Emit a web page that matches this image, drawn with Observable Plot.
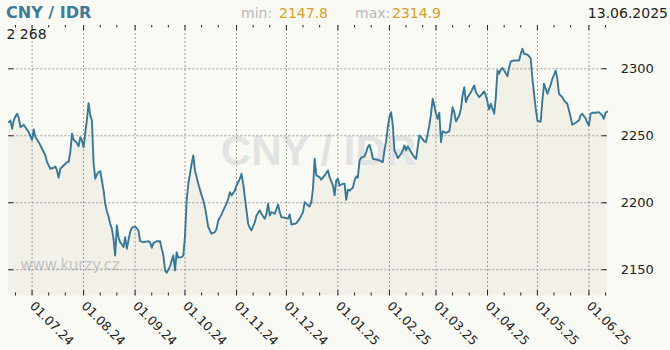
<!DOCTYPE html>
<html><head><meta charset="utf-8">
<script src="https://cdn.jsdelivr.net/npm/d3@7"></script>
<script src="https://cdn.jsdelivr.net/npm/@observablehq/plot@0.6"></script>
<style>
html,body{margin:0;padding:0;background:#fafaf5;}
#wrap{position:relative;width:670px;height:350px;overflow:hidden;font-family:"DejaVu Sans",sans-serif;}
#chart{position:absolute;left:0;top:0;}
.t{position:absolute;white-space:nowrap;line-height:1;}
</style></head><body>
<div id="wrap">
  <div id="chart"></div>
  <div class="t" id="title" style="left:6px;top:4.5px;font-size:16px;font-weight:bold;color:#3b7a99">CNY / IDR</div>
  <div class="t" style="left:241px;top:5.7px;font-size:14px;color:#b8b8b8">min:</div>
  <div class="t" id="minv" style="left:279px;top:5.7px;font-size:14px;color:#d6a11c"></div>
  <div class="t" style="left:355px;top:5.7px;font-size:14px;color:#b8b8b8">max:</div>
  <div class="t" id="maxv" style="left:392px;top:5.7px;font-size:14px;color:#d6a11c"></div>
  <div class="t" id="datev" style="right:2px;top:5.7px;font-size:14px;color:#222"></div>
  <div class="t" id="lastv" style="left:6.5px;top:26.7px;font-size:14px;color:#222"></div>
</div>
<script>
const pair = "CNY / IDR";
const asOf = "13.06.2025";
const site = "www.kurzy.cz";

const dates = [
"2024-06-17","2024-06-18","2024-06-19","2024-06-20","2024-06-21","2024-06-22","2024-06-23","2024-06-24","2024-06-26","2024-06-27","2024-06-29",
"2024-07-01","2024-07-02","2024-07-03","2024-07-05","2024-07-07","2024-07-09","2024-07-10","2024-07-12","2024-07-14","2024-07-15","2024-07-16","2024-07-17","2024-07-18","2024-07-20","2024-07-22","2024-07-23","2024-07-24","2024-07-25","2024-07-26","2024-07-28","2024-07-29","2024-07-30","2024-07-31",
"2024-08-01","2024-08-02","2024-08-03","2024-08-04","2024-08-05","2024-08-06","2024-08-07","2024-08-08","2024-08-09","2024-08-10","2024-08-11","2024-08-12","2024-08-13","2024-08-14","2024-08-15","2024-08-16","2024-08-17","2024-08-18","2024-08-19","2024-08-20","2024-08-21","2024-08-22","2024-08-23","2024-08-24","2024-08-25","2024-08-26","2024-08-27","2024-08-28","2024-08-29","2024-08-30",
"2024-09-01","2024-09-03","2024-09-04","2024-09-06","2024-09-09","2024-09-10","2024-09-11","2024-09-12","2024-09-14","2024-09-16","2024-09-17","2024-09-18","2024-09-19","2024-09-20","2024-09-22","2024-09-23","2024-09-24","2024-09-25","2024-09-26","2024-09-27","2024-09-29","2024-09-30",
"2024-10-01","2024-10-02","2024-10-03","2024-10-04","2024-10-05","2024-10-06","2024-10-07","2024-10-09","2024-10-11","2024-10-12","2024-10-13","2024-10-14","2024-10-15","2024-10-17","2024-10-19","2024-10-20","2024-10-21","2024-10-23","2024-10-24","2024-10-26","2024-10-27","2024-10-28","2024-10-29","2024-10-31",
"2024-11-01","2024-11-03","2024-11-04","2024-11-05","2024-11-06","2024-11-07","2024-11-08","2024-11-09","2024-11-10","2024-11-12","2024-11-13","2024-11-15","2024-11-16","2024-11-18","2024-11-19","2024-11-20","2024-11-21","2024-11-22","2024-11-24","2024-11-26","2024-11-27","2024-11-28","2024-11-30",
"2024-12-02","2024-12-03","2024-12-04","2024-12-06","2024-12-07","2024-12-09","2024-12-11","2024-12-12","2024-12-13","2024-12-15","2024-12-16","2024-12-17","2024-12-18","2024-12-19","2024-12-21","2024-12-22","2024-12-24","2024-12-26","2024-12-27","2024-12-29","2024-12-30","2024-12-31",
"2025-01-01","2025-01-02","2025-01-04","2025-01-05","2025-01-06","2025-01-07","2025-01-08","2025-01-10","2025-01-11","2025-01-12","2025-01-13","2025-01-14","2025-01-15","2025-01-17","2025-01-18","2025-01-19","2025-01-20","2025-01-21","2025-01-22","2025-01-24","2025-01-26","2025-01-28","2025-01-29","2025-01-30","2025-01-31",
"2025-02-01","2025-02-02","2025-02-03","2025-02-04","2025-02-05","2025-02-06","2025-02-08","2025-02-09","2025-02-10","2025-02-11","2025-02-12","2025-02-14","2025-02-16","2025-02-17","2025-02-18","2025-02-19","2025-02-20","2025-02-22","2025-02-23","2025-02-24","2025-02-25","2025-02-26","2025-02-27","2025-02-28",
"2025-03-01","2025-03-02","2025-03-03","2025-03-04","2025-03-05","2025-03-07","2025-03-09","2025-03-10","2025-03-11","2025-03-12","2025-03-13","2025-03-15","2025-03-16","2025-03-17","2025-03-18","2025-03-19","2025-03-20","2025-03-22","2025-03-23","2025-03-24","2025-03-25","2025-03-27","2025-03-28","2025-03-30","2025-03-31",
"2025-04-01","2025-04-02","2025-04-03","2025-04-04","2025-04-05","2025-04-06","2025-04-07","2025-04-08","2025-04-09","2025-04-10","2025-04-11","2025-04-13","2025-04-14","2025-04-15","2025-04-17","2025-04-19","2025-04-20","2025-04-21","2025-04-22","2025-04-23","2025-04-25","2025-04-26","2025-04-27","2025-04-28","2025-04-29","2025-04-30",
"2025-05-01","2025-05-02","2025-05-03","2025-05-04","2025-05-05","2025-05-06","2025-05-07","2025-05-09","2025-05-10","2025-05-11","2025-05-12","2025-05-13","2025-05-14","2025-05-16","2025-05-17","2025-05-19","2025-05-20","2025-05-21","2025-05-22","2025-05-23","2025-05-24","2025-05-26","2025-05-27","2025-05-28","2025-05-30","2025-05-31",
"2025-06-01","2025-06-02","2025-06-03","2025-06-05","2025-06-07","2025-06-09","2025-06-10","2025-06-11","2025-06-12"
];
const rates = [
2260.2,2261.4,2255.2,2261.4,2264.4,2266.4,2263.4,2256.4,2258.2,2256.4,2252.7,
2247.0,2254.7,2249.0,2245.2,2240.3,2235.3,2230.3,2225.4,2226.1,2227.1,2224.1,2218.7,2225.4,2227.8,2230.3,2230.3,2237.8,2251.5,2247.0,2244.5,2242.2,2249.0,2246.5,
2241.5,2252.0,2262.0,2274.3,2265.2,2261.4,2230.0,2217.9,2221.1,2222.8,2223.6,2216.6,2209.2,2199.3,2193.7,2189.8,2184.3,2180.6,2173.1,2160.7,2183.1,2174.3,2170.6,2168.9,2166.9,2174.3,2165.7,2171.9,2178.1,2181.3,
2182.3,2179.3,2171.3,2170.6,2171.3,2170.6,2166.4,2169.9,2171.3,2171.3,2165.7,2160.7,2149.5,2147.8,2152.5,2156.9,2160.7,2149.5,2163.1,2159.0,2159.4,2160.7,
2175.0,2201.7,2214.2,2221.6,2229.1,2235.3,2224.1,2214.2,2205.5,2201.7,2196.7,2189.3,2181.8,2176.9,2178.1,2180.6,2186.8,2191.3,2194.3,2199.3,2203.0,2207.9,2205.5,2209.2,
2212.9,2217.9,2221.6,2214.2,2204.2,2194.3,2184.3,2181.3,2179.3,2185.5,2190.5,2194.3,2191.8,2188.1,2191.8,2199.3,2190.5,2193.0,2191.8,2198.7,2193.0,2189.3,2188.8,
2188.1,2191.3,2183.8,2184.3,2184.8,2188.1,2193.0,2200.5,2199.3,2197.2,2200.5,2210.5,2232.8,2220.4,2219.1,2217.2,2220.4,2224.1,2219.1,2212.9,2205.5,2216.6,
2217.9,2212.9,2214.2,2214.2,2202.2,2209.7,2209.2,2211.2,2216.6,2219.6,2218.7,2231.6,2233.6,2234.6,2237.8,2241.5,2243.3,2239.0,2232.8,2232.3,2231.6,2230.3,2239.0,2245.8,2256.4,
2263.9,2267.6,2258.0,2239.0,2236.6,2233.3,2236.6,2239.0,2242.8,2239.0,2242.2,2237.8,2234.0,2232.8,2241.5,2250.2,2249.0,2245.8,2245.2,2251.5,2257.7,2266.4,2277.6,2272.6,
2266.4,2262.7,2267.2,2245.2,2253.2,2252.2,2253.2,2261.4,2271.3,2267.6,2260.7,2265.2,2270.2,2280.1,2286.3,2275.1,2278.8,2282.5,2285.1,2287.5,2282.5,2278.8,2280.1,2283.1,2280.1,
2275.1,2269.6,2273.9,2270.2,2266.4,2278.8,2298.7,2296.3,2299.5,2300.5,2298.7,2294.5,2301.2,2305.5,2306.2,2306.2,2306.2,2311.2,2314.9,2311.2,2310.5,2309.4,2307.5,2292.5,2281.3,2270.2,
2261.4,2260.7,2260.7,2276.3,2288.8,2285.1,2281.3,2288.1,2292.5,2295.5,2298.7,2292.5,2281.3,2278.8,2276.3,2273.9,2268.9,2263.9,2258.2,2259.0,2259.7,2261.4,2265.2,2266.4,2263.1,2259.7,
2257.7,2266.4,2267.2,2267.2,2267.6,2265.2,2262.7,2267.2,2268.0
];

const yTicks = [2150, 2200, 2250, 2300];
const monthTicks = ["2024-07-01","2024-08-01","2024-09-01","2024-10-01","2024-11-01","2024-12-01","2025-01-01","2025-02-01","2025-03-01","2025-04-01","2025-05-01","2025-06-01"];
const monthLabels = ["01.07.24","01.08.24","01.09.24","01.10.24","01.11.24","01.12.24","01.01.25","01.02.25","01.03.25","01.04.25","01.05.25","01.06.25"];
const minorTicks = ["2024-06-21","2024-07-11","2024-07-21","2024-08-11","2024-08-21","2024-09-11","2024-09-21","2024-10-11","2024-10-21","2024-11-11","2024-11-21","2024-12-11","2024-12-21","2025-01-11","2025-01-21","2025-02-11","2025-02-21","2025-03-11","2025-03-21","2025-04-11","2025-04-21","2025-05-11","2025-05-21","2025-06-11"];

const toDate = s => new Date(s + "T00:00:00Z");
const data = dates.map((d, i) => ({date: toDate(d), rate: rates[i]}));
const months = monthTicks.map((d, i) => ({date: toDate(d), label: monthLabels[i]}));
const minors = minorTicks.map(toDate);

const W = 670, H = 350, mT = 25, mB = 54.5, mL = 8.3, mR = 63.3;
const plotW = W - mL - mR, plotH = H - mT - mB;
const yDomain = [2130.4, 2332.3];
const ink = "#222";
const gridStyle = {stroke: "#9a9a9a", strokeOpacity: 1, strokeDasharray: "2,2"};

const chart = Plot.plot({
  width: W, height: H,
  marginTop: mT, marginBottom: mB, marginLeft: mL, marginRight: mR,
  style: {background: "transparent", fontFamily: "DejaVu Sans", color: ink, overflow: "visible"},
  x: {type: "utc", domain: [data[0].date, data[data.length - 1].date], axis: null},
  y: {domain: yDomain, axis: null},
  marks: [
    Plot.areaY(data, {x: "date", y1: yDomain[0], y2: "rate", fill: "#f1f1e8"}),
    Plot.text([pair], {frameAnchor: "top-left", dx: 212, dy: 110, lineAnchor: "top", textAnchor: "start",
      fontSize: 42, fontWeight: "bold", fontFamily: "Liberation Sans", fill: "#e3e3e3"}),
    Plot.text([site], {frameAnchor: "top-left", dx: 11.5, dy: 234, lineAnchor: "top", textAnchor: "start",
      fontSize: 15, fontFamily: "DejaVu Sans", fill: "#c4c4c4"}),
    Plot.ruleY(yTicks, {y: d => d, ...gridStyle}),
    Plot.ruleX(months, {x: "date", ...gridStyle}),
    Plot.tickY(yTicks, {y: d => d, insetRight: plotW - 5, stroke: ink}),
    Plot.tickY(yTicks, {y: d => d, insetLeft: plotW - 5, stroke: ink}),
    Plot.tickX(months, {x: "date", insetBottom: plotH - 5, stroke: ink}),
    Plot.tickX(minors, {x: d => d, insetBottom: plotH - 2.5, stroke: ink}),
    Plot.tickX(months, {x: "date", insetTop: plotH - 5.5, stroke: ink}),
    Plot.tickX(minors, {x: d => d, insetTop: plotH - 3, stroke: ink}),
    Plot.lineY(data, {x: "date", y: "rate", stroke: "#377899", strokeWidth: 1.9, strokeLinejoin: "round"}),
    Plot.text(yTicks, {y: d => d, text: d => String(d), frameAnchor: "right", dx: 13.5, textAnchor: "start",
      lineAnchor: "middle", fontSize: 13, fill: ink}),
    Plot.text(months, {x: "date", text: "label", frameAnchor: "bottom", dy: 8, rotate: 45,
      textAnchor: "start", lineAnchor: "middle", fontSize: 12.5, fill: ink})
  ]
});
document.getElementById("chart").appendChild(chart);

const fmtThousands = v => String(Math.round(v)).replace(/\B(?=(\d{3})+(?!\d))/g, " ");
document.getElementById("minv").textContent = d3.min(rates).toFixed(1);
document.getElementById("maxv").textContent = d3.max(rates).toFixed(1);
document.getElementById("datev").textContent = asOf;
document.getElementById("lastv").textContent = fmtThousands(rates[rates.length - 1]);
document.getElementById("title").textContent = pair;
</script>
</body></html>
